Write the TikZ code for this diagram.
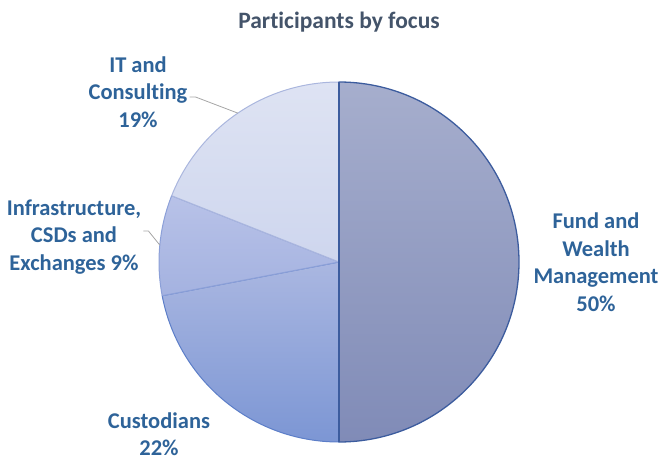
\documentclass[tikz,border=0pt]{standalone}
\usepackage{fontspec}
\setmainfont{Carlito}[Ligatures=NoCommon]
\begin{document}
\begin{tikzpicture}[x=1pt,y=1pt]
% Local definitions
\def\rad{180}
% Colors
\definecolor{titlecolor}{RGB}{68,84,106}
\definecolor{labelcolor}{RGB}{46,99,153}
\definecolor{leadercolor}{RGB}{166,166,166}
\definecolor{fundtop}{RGB}{166,174,205}
\definecolor{fundbot}{RGB}{128,139,183}
\definecolor{fundline}{RGB}{60,92,158}
\definecolor{custtop}{RGB}{170,183,225}
\definecolor{custbot}{RGB}{124,150,212}
\definecolor{custline}{RGB}{92,126,200}
\definecolor{infratop}{RGB}{184,194,232}
\definecolor{infrabot}{RGB}{164,178,224}
\definecolor{infraline}{RGB}{140,160,216}
\definecolor{ittop}{RGB}{222,227,243}
\definecolor{itbot}{RGB}{206,214,238}
\definecolor{itline}{RGB}{170,182,222}
% Styles
\tikzstyle{slice label}=[align=center,text=labelcolor,inner sep=2pt,
  font=\bfseries\fontsize{22.5}{27.5}\selectfont]
\tikzstyle{leader}=[draw=leadercolor,line width=0.8pt]
\tikzstyle{slice}=[line width=1pt,line join=round]
% The graphic
\useasboundingbox (-339,-199) rectangle (322,262);
\node[text=titlecolor,font=\bfseries\fontsize{23.5}{28}\selectfont] (title) at (0,240) {Participants by focus};
% Slices
\draw[style=slice,top color=fundtop,bottom color=fundbot,draw=fundline,line width=1.3pt]
  (0,0) -- (90:\rad) arc(90:-90:\rad) -- cycle;
\draw[style=slice,top color=custtop,bottom color=custbot,draw=custline]
  (0,0) -- (-90:\rad) arc(-90:-169.2:\rad) -- cycle;
\draw[style=slice,top color=infratop,bottom color=infrabot,draw=infraline]
  (0,0) -- (190.8:\rad) arc(190.8:158.4:\rad) -- cycle;
\draw[style=slice,top color=ittop,bottom color=itbot,draw=itline]
  (0,0) -- (158.4:\rad) arc(158.4:90:\rad) -- cycle;
\draw[fundline,line width=1.3pt] (0,\rad) -- (0,-\rad);
% Labels
\node[slice label] (fund label) at (257,0) {Fund and\\Wealth\\Management\\50\%};
\node[slice label] (cust label) at (-180,-172) {Custodians\\22\%};
\node[slice label] (infra label) at (-265,25) {Infrastructure,\\CSDs and\\Exchanges 9\%};
\node[slice label] (it label) at (-201,170) {IT and\\Consulting\\19\%};
% Leader lines
\coordinate (infra tip) at (174.6:\rad);
\coordinate (it tip) at (124.2:\rad);
\draw[style=leader] ([yshift=6pt]infra label.east) -- ++(5,0) -- (infra tip);
\draw[style=leader] ([yshift=-5pt]it label.east) -- ++(6,0) -- (it tip);
\end{tikzpicture}
\end{document}
